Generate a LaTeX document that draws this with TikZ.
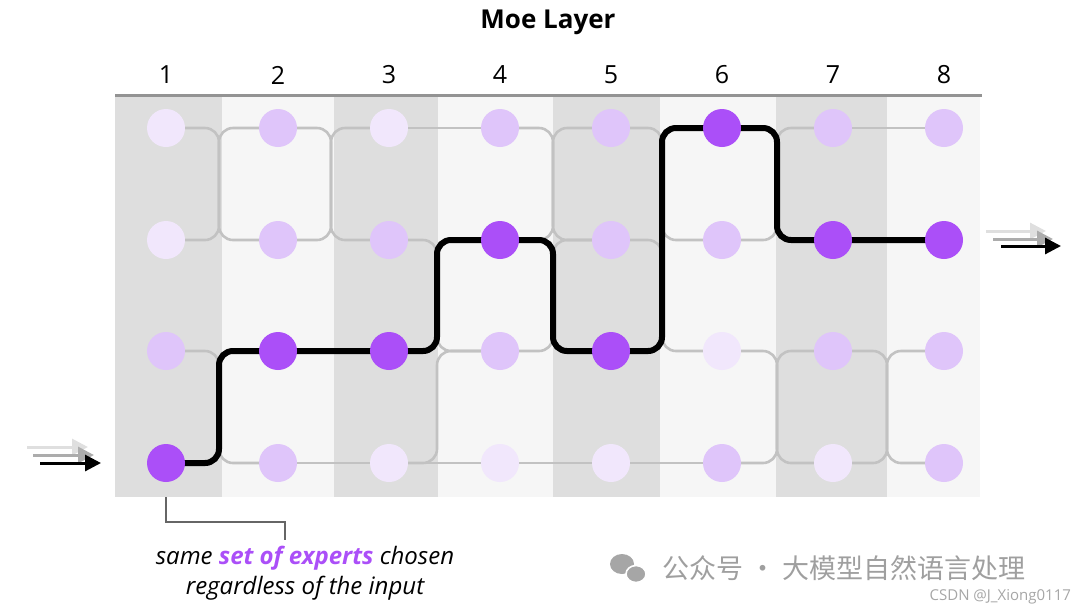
\documentclass[tikz,border=0pt]{standalone}
\usepackage{fontspec}
\setmainfont{Open Sans}
\newfontfamily\cjk{Noto Sans CJK SC}
\usetikzlibrary{arrows.meta}
\definecolor{chosen}{HTML}{AB4FF8}
\definecolor{midp}{HTML}{DFC5FA}
\definecolor{lightp}{HTML}{F1E7FC}
\definecolor{banddark}{HTML}{DEDEDE}
\definecolor{bandlight}{HTML}{F6F6F6}
\definecolor{wire}{HTML}{C2C2C2}
\begin{document}
\begin{tikzpicture}[x=0.5pt,y=-0.5pt,
  expert/.style={circle,inner sep=0pt,minimum size=19pt},
  gwire/.style={draw=wire,line width=1.3pt,rounded corners=7pt},
  bwire/.style={draw=black,line width=3pt,rounded corners=7pt},
  lbl/.style={font=\fontsize{12.5}{14}\selectfont},
  inarrow/.style={line width=1.5pt,-{Triangle[length=8pt,width=8pt]}}]
\useasboundingbox (0,0) rectangle (1080,612);
% bands
\foreach \a/\b/\c in {115/222/banddark,222/334/bandlight,334/438/banddark,438/553/bandlight,553/660/banddark,660/776/bandlight,776/887/banddark,887/980/bandlight}
  \fill[\c] (\a,96) rectangle (\b,497);
\draw[draw=gray!85,line width=1.5pt] (115,95) -- (982,95);
\node[font=\bfseries\fontsize{13}{15}\selectfont] (title) at (548,22) {Moe Layer};
% experts
\def\xs{{0,166,278,389,500,611,722,833,944}}
\foreach \c/\col in {1/166,2/278,3/389,4/500,5/611,6/722,7/833,8/944}
  \node[lbl] (lab\c) at (\col,75) {\c};
\foreach \r/\y in {1/128,2/240,3/351,4/463}{
  \foreach \c in {1,...,8}{
    \pgfmathsetmacro{\xx}{\xs[\c]}
    \coordinate (p\c-\r) at (\xx,\y);
  }
}
% grey wires crossing rows: gap/gapx/from row/to row
\foreach \i/\g/\a/\b in {
 1/219/1/2,1/219/2/1,1/219/3/4,
 2/331/1/2,2/331/2/1,
 3/437/2/3,3/437/4/3,
 4/553/1/2,4/553/2/1,4/553/3/2,
 5/662/1/2,5/662/2/3,
 6/777/2/1,6/777/3/4,6/777/4/3,
 7/887/3/4,7/887/4/3}{
  \pgfmathtruncatemacro{\j}{\i+1}
  \draw[gwire] (p\i-\a) -- (\g,0 |- p\i-\a) -- (\g,0 |- p\j-\b) -- (p\j-\b);
}
% straight grey wires
\foreach \i/\a in {2/4,3/1,3/4,4/4,5/4,7/1}{
  \pgfmathtruncatemacro{\j}{\i+1}
  \draw[gwire] (p\i-\a) -- (p\j-\a);
}
% black route
\draw[bwire] (p1-4) -| (219,0 |- p2-3) -- (p2-3) -- (p3-3) -| (437,0 |- p4-2) -- (p4-2)
  -| (553,0 |- p5-3) -- (p5-3) -| (662,0 |- p6-1) -- (p6-1) -| (777,0 |- p7-2) -- (p7-2) -- (p8-2);
% nodes on top
\foreach \r/\cols in {
 1/{lightp,midp,lightp,midp,midp,chosen,midp,midp},
 2/{lightp,midp,midp,chosen,midp,midp,chosen,chosen},
 3/{midp,chosen,chosen,midp,chosen,lightp,midp,midp},
 4/{chosen,midp,lightp,lightp,lightp,midp,lightp,midp}}{
  \foreach \cc [count=\c] in \cols
    \node[expert,fill=\cc] (e\c-\r) at (p\c-\r) {};
}
% input/output arrows
\coordinate (ia1) at (27,447); \coordinate (ib1) at (88,447);
\coordinate (ia2) at (33,455); \coordinate (ib2) at (94,455);
\coordinate (ia3) at (40,463); \coordinate (ib3) at (101,463);
\draw[inarrow,gray!25] (ia1) -- (ib1);
\draw[inarrow,gray!65] (ia2) -- (ib2);
\draw[inarrow,black] (ia3) -- (ib3);
\coordinate (oa1) at (986,231); \coordinate (ob1) at (1046,231);
\coordinate (oa2) at (993,239); \coordinate (ob2) at (1053,239);
\coordinate (oa3) at (1001,246); \coordinate (ob3) at (1061,246);
\draw[inarrow,gray!25] (oa1) -- (ob1);
\draw[inarrow,gray!65] (oa2) -- (ob2);
\draw[inarrow,black] (oa3) -- (ob3);
% annotation
\coordinate (ann) at (285,540);
\draw[gray!80!black,line width=0.8pt] (166,497) |- (285,522) -- (ann);
\node[font=\itshape\fontsize{12}{15}\selectfont,align=center] (cap) at (305,573)
  {same \textcolor{chosen}{\bfseries set of experts} chosen\\regardless of the input};
% watermark
\node[text=gray!75,font=\cjk\fontsize{13.5}{15}\selectfont,anchor=west] (wm) at (655,568) {公众号 · 大模型自然语言处理};
\fill[gray!70] (622,564) ellipse (12 and 10);
\fill[gray!70,draw=white,line width=0.8pt] (636,574) ellipse (10 and 8.5);
\node[text=gray!70,font=\fontsize{7.5}{9}\selectfont,anchor=east] (csdn) at (1078,597) {CSDN @J\_Xiong0117};
\end{tikzpicture}
\end{document}
